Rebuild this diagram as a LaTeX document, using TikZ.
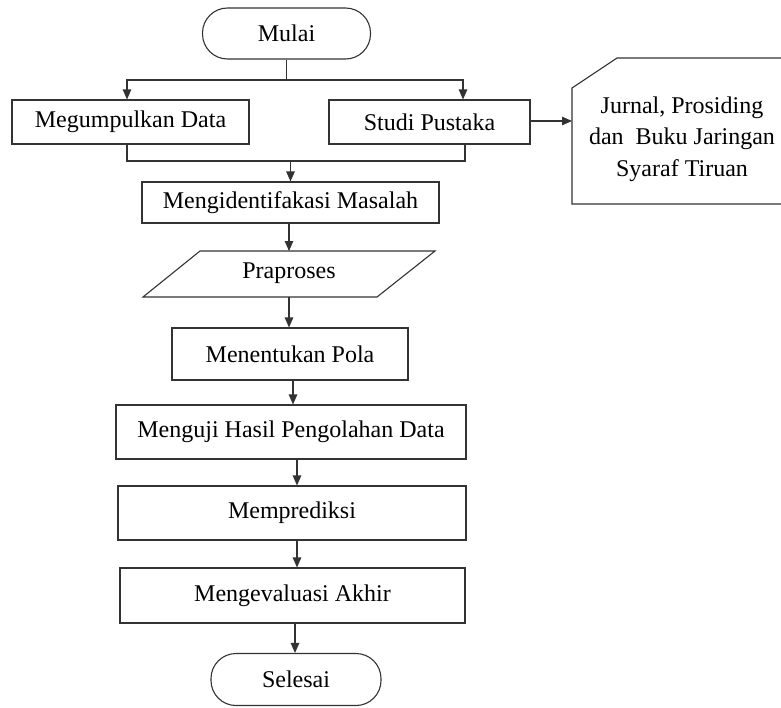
\documentclass[tikz,border=0pt]{standalone}
\usepackage{fontspec}
\setmainfont{Liberation Serif}
\usetikzlibrary{arrows.meta,calc}
\begin{document}
\begin{tikzpicture}[x=1pt,y=-1pt,
  ln/.style={line width=1.1pt, draw=black!80},
  arr/.style={ln,-{Triangle[length=10pt,width=8.5pt]}},
  txt/.style={font=\fontsize{24}{31.5}\selectfont, text=black},
  boxx/.style={ln, rectangle, inner sep=0pt, txt},
  term/.style={boxx, rounded corners=25pt}]
\useasboundingbox (0,0) rectangle (781,707);
% nodes
\node[term, minimum width=168pt, minimum height=51pt] (mulai) at (286.5,33.5) {Mulai};
\node[boxx, minimum width=237pt, minimum height=44pt] (kumpul) at (130.5,122) {Megumpulkan Data};
\node[boxx, minimum width=201pt, minimum height=44pt] (studi) at (429.5,122) {Studi Pustaka};
\node[boxx, minimum width=297pt, minimum height=41pt] (identif) at (290.5,202.5) {Mengidentifakasi Masalah};
% parallelogram
\coordinate (p1) at (200,251);
\coordinate (p2) at (435,251);
\coordinate (p3) at (377,297);
\coordinate (p4) at (143,297);
\draw[ln] (p1) -- (p2) -- (p3) -- (p4) -- cycle;
\node[txt] (prap) at (289,273) {Praproses};
\node[boxx, minimum width=236pt, minimum height=52pt] (pola) at (290,354) {Menentukan Pola};
\node[boxx, minimum width=350pt, minimum height=54pt] (uji) at (291,432) {Menguji Hasil Pengolahan Data};
\node[boxx, minimum width=348pt, minimum height=54pt] (predik) at (292,513) {Memprediksi};
\node[boxx, minimum width=345pt, minimum height=55pt] (eval) at (292.5,595.5) {Mengevaluasi Akhir};
\node[term, minimum width=170pt, minimum height=52pt] (selesai) at (296,679.5) {Selesai};
% document shape
\coordinate (d1) at (781,58);
\coordinate (d2) at (617,58);
\coordinate (d3) at (572,88);
\coordinate (d4) at (572,204);
\coordinate (d5) at (781,204);
\draw[ln] (d1) -- (d2) -- (d3) -- (d4) -- (d5);
\node[txt, align=center] (dok) at (682,139) {Jurnal, Prosiding\\dan~ Buku Jaringan\\Syaraf Tiruan};
% connectors
\coordinate (s0) at (286.5,80);
\draw[ln] (mulai.south) -- (s0);
\draw[arr] (s0) -| ([xshift=-3.5pt]kumpul.north);
\draw[arr] (s0) -| ([xshift=33.5pt]studi.north);
\coordinate (m0) at (290.5,161);
\draw[ln] ([xshift=-3.5pt]kumpul.south) |- (m0);
\draw[ln] ([xshift=35.5pt]studi.south) |- (m0);
\draw[arr] (m0) -- (identif.north);
\coordinate (dokin) at (572,121);
\draw[arr] (studi.east |- dokin) -- (dokin);
\coordinate (ptop) at (289,251);
\coordinate (pbot) at (289,297);
\draw[arr] (identif.south -| ptop) -- (ptop);
\draw[arr] (pbot) -- (pola.north -| pbot);
\draw[arr] ([xshift=3pt]pola.south) -- ([xshift=3pt]pola.south |- uji.north);
\draw[arr] ([xshift=6pt]uji.south) -- ([xshift=6pt]uji.south |- predik.north);
\draw[arr] ([xshift=5pt]predik.south) -- ([xshift=5pt]predik.south |- eval.north);
\draw[arr] ([xshift=2.5pt]eval.south) -- ([xshift=2.5pt]eval.south |- selesai.north);
\end{tikzpicture}
\end{document}
